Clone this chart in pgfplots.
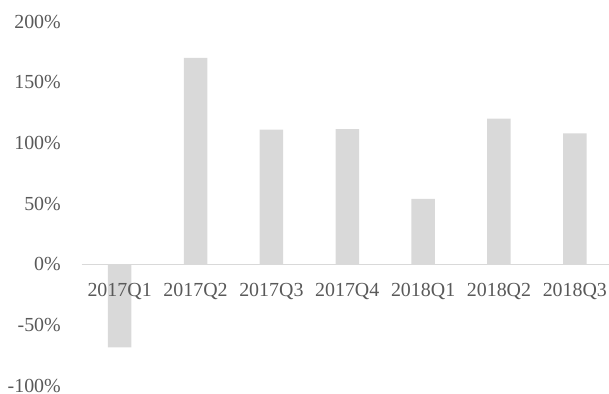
\documentclass[border=0pt]{standalone}
\usepackage{pgfplots}
\pgfplotsset{compat=1.18}
\usepackage{fontspec}
\setmainfont{Liberation Serif}
\definecolor{barc}{HTML}{D9D9D9}
\definecolor{txt}{HTML}{595959}
\begin{document}
\begin{tikzpicture}
\useasboundingbox (0,0) rectangle (609bp,394bp);
\begin{axis}[
  at={(81.7bp,8.1bp)}, anchor=south west,
  scale only axis,
  width=527.3bp, height=364.2bp,
  xmin=-0.5, xmax=6.45,
  ymin=-100, ymax=200,
  axis on top,
  axis line style={draw=none},
  major tick length=0pt,
  xtick={0,1,2,3,4,5,6},
  xticklabels={2017Q1,2017Q2,2017Q3,2017Q4,2018Q1,2018Q2,2018Q3},
  ytick={-100,-50,0,50,100,150,200},
  yticklabels={-100\%,-50\%,0\%,50\%,100\%,150\%,200\%},
  tick label style={font=\fontsize{20}{24}\selectfont, text=txt, inner sep=0pt},
  xticklabel style={anchor=base, yshift=89.4bp},
  yticklabel style={anchor=east, xshift=-20.7bp},
  clip=false,
]
\addplot[ybar, bar width=23.5bp, fill=barc, draw=none] coordinates {
  (0,-68.2) (1,170.3) (2,111.0) (3,111.6) (4,54.0) (5,120.1) (6,108.1)
};
\addplot[draw=barc, line width=1bp, mark=none] coordinates {(-0.5,0) (6.45,0)};
\end{axis}
\end{tikzpicture}
\end{document}
